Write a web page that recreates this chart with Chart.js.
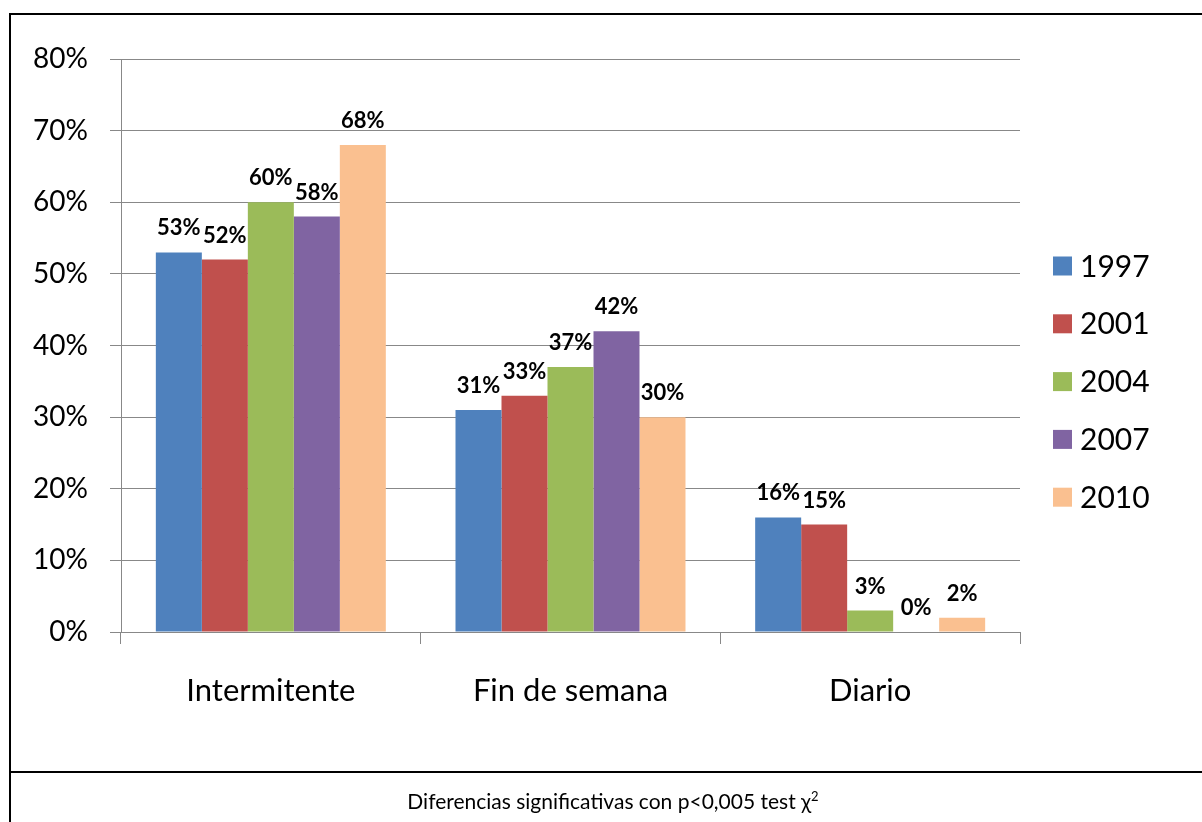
<!DOCTYPE html>
<html>
<head>
<meta charset="utf-8">
<script src="https://cdn.jsdelivr.net/npm/chart.js@4.4.0/dist/chart.umd.min.js"></script>
<style>
  html, body { margin: 0; padding: 0; background: #fff; }
  body { width: 1202px; height: 822px; position: relative; overflow: hidden; font-family: Lato, "Open Sans", sans-serif; }
  #chartWrap { position: absolute; left: 0; top: 0; width: 1202px; height: 822px; }
  .line { position: absolute; background: #000; }
  #caption { position: absolute; left: 0; width: 1226px; top: 788px; text-align: center; font-size: 21px; color: #000; }
  #caption sup { font-size: 13px; }
</style>
</head>
<body>
<div id="chartWrap"><canvas id="barChart" width="1202" height="822"></canvas></div>
<div class="line" style="left:9px;top:13px;width:1193px;height:2px;"></div>
<div class="line" style="left:9px;top:13px;width:2px;height:809px;"></div>
<div class="line" style="left:9px;top:771px;width:1193px;height:2px;"></div>
<div id="caption">Diferencias significativas con p&lt;0,005 test &chi;<sup>2</sup></div>
<script>
// Data
const categories = ["Intermitente", "Fin de semana", "Diario"];
const years = ["1997", "2001", "2004", "2007", "2010"];
const values1997 = [53, 31, 16];
const values2001 = [52, 33, 15];
const values2004 = [60, 37, 3];
const values2007 = [58, 42, 0];
const values2010 = [68, 30, 2];
const yTicks = [0, 10, 20, 30, 40, 50, 60, 70, 80];

const colors = ["#4F81BD", "#C0504D", "#9BBB59", "#8064A2", "#FAC090"];
const seriesValues = [values1997, values2001, values2004, values2007, values2010];

// Percent labels above each bar
const valueLabels = {
  id: "valueLabels",
  afterDatasetsDraw(chart) {
    const ctx = chart.ctx;
    ctx.save();
    ctx.font = "bold 22px Lato, sans-serif";
    ctx.fillStyle = "#000";
    ctx.textAlign = "center";
    ctx.textBaseline = "alphabetic";
    chart.data.datasets.forEach((ds, i) => {
      chart.getDatasetMeta(i).data.forEach((bar, j) => {
        ctx.fillText(ds.data[j] + "%", bar.x, bar.y - 17);
      });
    });
    ctx.restore();
  }
};

// Legend on the right, drawn by hand to match the original spacing
const sideLegend = {
  id: "sideLegend",
  afterDraw(chart) {
    const ctx = chart.ctx;
    const boxX = 1053, textX = 1080, firstY = 266, gap = 57.8, box = 19;
    ctx.save();
    ctx.font = "30px Lato, sans-serif";
    ctx.textBaseline = "middle";
    ctx.textAlign = "left";
    chart.data.datasets.forEach((ds, i) => {
      const y = firstY + i * gap;
      ctx.fillStyle = ds.backgroundColor;
      ctx.fillRect(boxX, y - box / 2, box, box);
      ctx.fillStyle = "#000";
      ctx.fillText(ds.label, textX, y + 1);
    });
    ctx.restore();
  }
};

const chart = new Chart(document.getElementById("barChart"), {
  type: "bar",
  data: {
    labels: categories,
    datasets: years.map((y, i) => ({
      label: y,
      data: seriesValues[i],
      backgroundColor: colors[i],
      borderWidth: 0,
      categoryPercentage: 0.7675,
      barPercentage: 1.0
    }))
  },
  options: {
    responsive: false,
    animation: false,
    layout: { padding: { left: 0, right: 182, top: 59, bottom: 0 } },
    plugins: { legend: { display: false }, tooltip: { enabled: false } },
    scales: {
      x: {
        grid: { drawOnChartArea: false, drawTicks: true, tickLength: 12, color: "#888", offset: true },
        border: { display: true, color: "#888" },
        ticks: { color: "#000", font: { family: "Lato, sans-serif", size: 31 }, padding: 28 },
        afterFit(scale) { scale.height = 822 - 632; }
      },
      y: {
        min: 0,
        max: 80,
        afterBuildTicks(scale) { scale.ticks = yTicks.map(v => ({ value: v })); },
        grid: { color: "#888", tickLength: 11, lineWidth: 1 },
        border: { display: true, color: "#888" },
        ticks: {
          color: "#000",
          font: { family: "Lato, sans-serif", size: 28 },
          padding: 22,
          callback: v => v + "%"
        },
        afterFit(scale) { scale.width = 121; }
      }
    }
  },
  plugins: [valueLabels, sideLegend]
});
</script>
</body>
</html>
